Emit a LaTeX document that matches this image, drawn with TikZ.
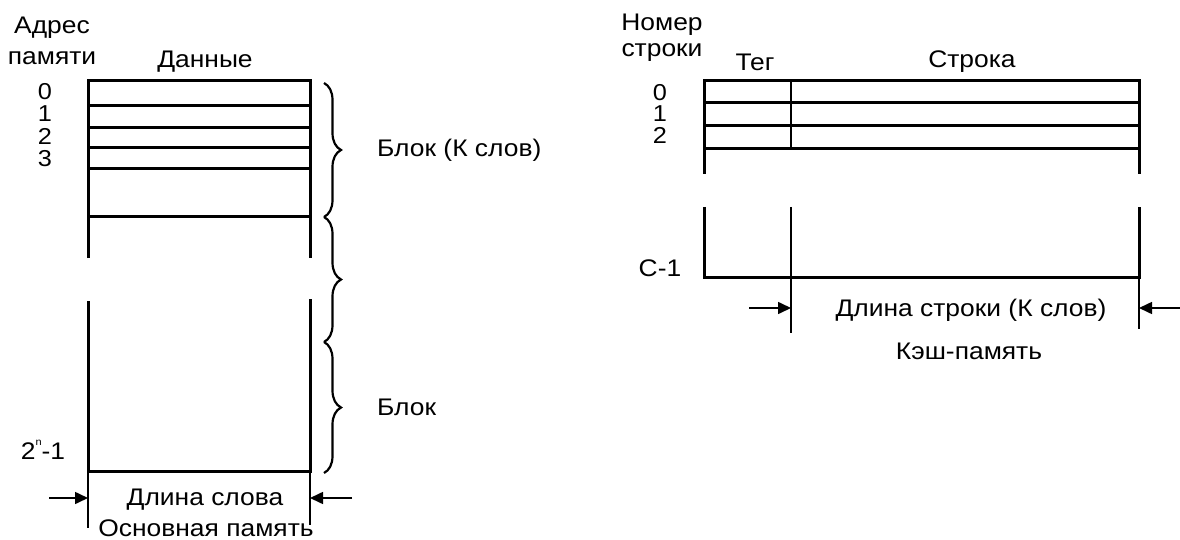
\documentclass[tikz,border=0pt]{standalone}
\usepackage{fontspec}
\setmainfont[FakeStretch=1.1]{Liberation Sans}
\usetikzlibrary{arrows.meta,decorations.pathreplacing}
\begin{document}
\begin{tikzpicture}[x=1pt,y=-1pt,
  lbl/.style={font=\fontsize{24}{26}\selectfont, inner sep=0pt, anchor=center},
  digit/.style={font=\fontsize{23}{24}\selectfont, inner sep=0pt, anchor=center, text height=16pt, text depth=0pt},
  thickline/.style={line width=3pt, line join=miter},
  midline/.style={line width=2.4pt},
  thinline/.style={line width=1.4pt},
  dimarrow/.style={line width=1.6pt,-{Triangle[length=13pt,width=12pt]}},
  bracestyle/.style={line width=2.2pt, decorate, decoration={brace,amplitude=17pt,aspect=0.5}}]
\useasboundingbox (0,0) rectangle (1180,540);

% ---------- main memory ----------
\coordinate (mTL) at (88,81);
\coordinate (mTR) at (310,81);
\draw[thickline] (88,258) -- (mTL) -- (mTR) -- (310,258);
\foreach \y in {106,128,148,169,216} \draw[thickline] (88,\y) -- (310,\y);
\coordinate (mBL) at (88,471);
\coordinate (mBR) at (310,471);
\draw[thickline] (88,301) -- (mBL) -- (mBR) -- (310,299);
\coordinate (mBLe) at (88,528);
\coordinate (mBRe) at (310,525);
\draw[thinline] (mBL) -- (mBLe);
\draw[thinline] (mBR) -- (mBRe);
\coordinate (mArL) at (49,498);
\coordinate (mArLe) at (88,498);
\coordinate (mArR) at (352,498);
\coordinate (mArRe) at (310,498);
\draw[dimarrow] (mArL) -- (mArLe);
\draw[dimarrow] (mArR) -- (mArRe);

% braces
\draw[bracestyle] (324,83) -- (324,217);
\draw[bracestyle] (324,217) -- (324,342);
\draw[bracestyle] (324,342) -- (324,473);

\node[lbl] (adr1) at (52,28) {Адрес};
\node[lbl] (adr2) at (52,58) {памяти};
\node[lbl] (data) at (205,62) {Данные};
\node[digit] (a0) at (45,92) {0};
\node[digit] (a1) at (45,114) {1};
\node[digit] (a2) at (45,137) {2};
\node[digit] (a3) at (45,159) {3};
\node[lbl] (alast) at (43,450) {2\raisebox{1.1ex}{\fontsize{10}{10}\selectfont n}-1};
\node[lbl,anchor=west] (blk1) at (377,150) {Блок (К слов)};
\node[lbl,anchor=west] (blk2) at (377,407) {Блок};
\node[lbl] (wlen) at (205,500) {Длина слова};
\node[lbl] (mainm) at (206,528) {Основная память};

% ---------- cache ----------
\coordinate (cTL) at (704,81);
\coordinate (cTR) at (1139,81);
\draw[thickline] (704,174) -- (cTL) -- (cTR) -- (1139,174);
\foreach \y in {103,126,149} \draw[thickline] (704,\y) -- (1139,\y);
\draw[midline] (791,81) -- (791,149);
\coordinate (cBL) at (704,277);
\coordinate (cBR) at (1139,277);
\coordinate (cBT) at (791,277);
\draw[thickline] (704,207) -- (cBL) -- (cBR) -- (1139,207);
\draw[midline] (791,207) -- (cBT);
\coordinate (cBTe) at (791,333);
\coordinate (cBRe) at (1139,329);
\draw[thinline] (cBT) -- (cBTe);
\draw[thinline] (cBR) -- (cBRe);
\coordinate (cArL) at (749,308);
\coordinate (cArLe) at (791,308);
\coordinate (cArR) at (1180,308);
\coordinate (cArRe) at (1139,308);
\draw[dimarrow] (cArL) -- (cArLe);
\draw[dimarrow] (cArR) -- (cArRe);

\node[lbl] (num1) at (662,25) {Номер};
\node[lbl] (num2) at (662,53) {строки};
\node[lbl] (tag) at (755,62) {Тег};
\node[lbl] (line) at (972,62) {Строка};
\node[digit] (c0) at (660,93) {0};
\node[digit] (c1) at (660,114) {1};
\node[digit] (c2) at (660,136) {2};
\node[lbl] (clast) at (660,268) {C-1};
\node[lbl] (llen) at (971,310) {Длина строки (К слов)};
\node[lbl] (cache) at (969,351) {Кэш-память};
\end{tikzpicture}
\end{document}
